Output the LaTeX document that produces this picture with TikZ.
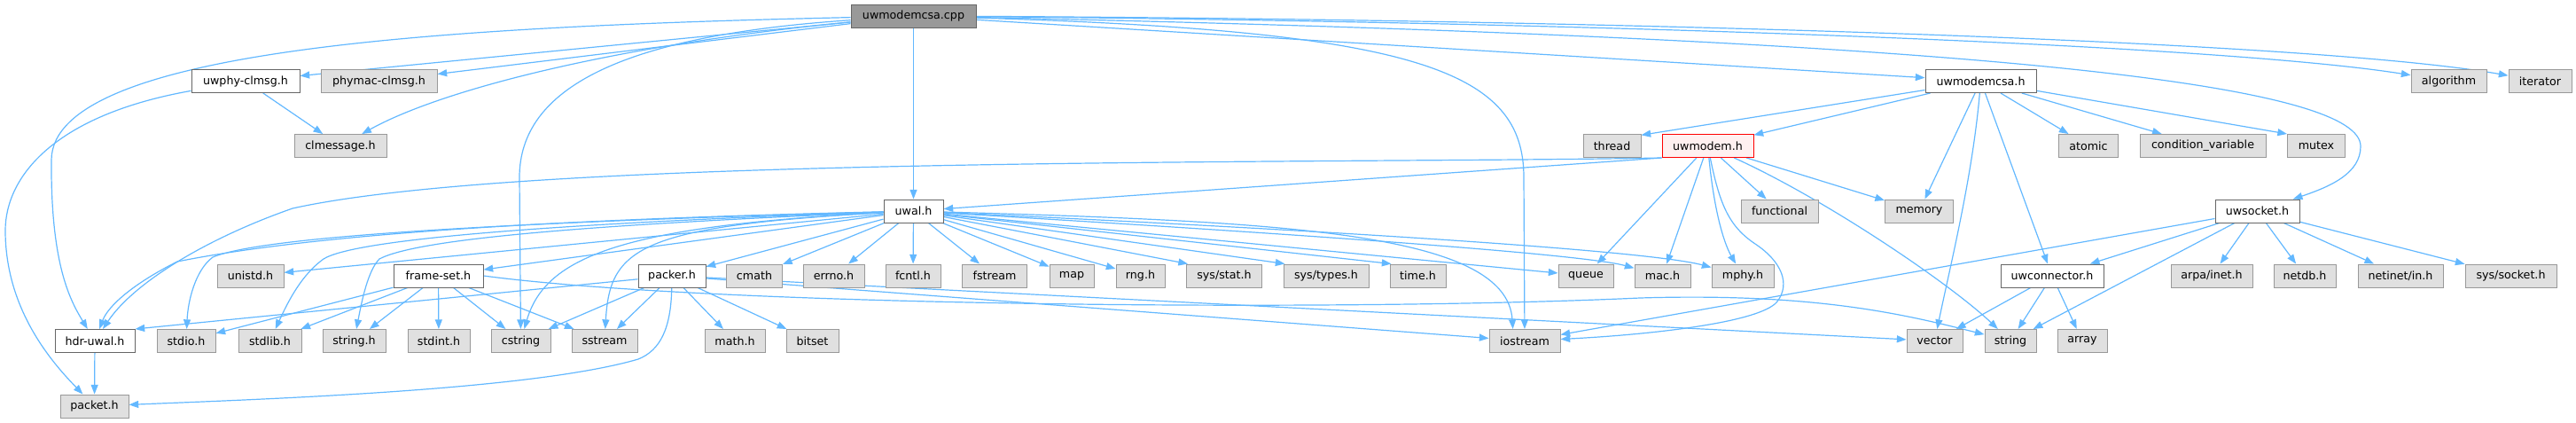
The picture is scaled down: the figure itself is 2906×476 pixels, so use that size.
\documentclass[tikz,border=0pt]{standalone}
\usepackage{fontspec}
\setmainfont{DejaVu Sans}
\usetikzlibrary{arrows.meta}
\pgfdeclarelayer{edgelayer}
\pgfsetlayers{edgelayer,main}
\definecolor{edgec}{HTML}{63B8FF}
\definecolor{gfill}{HTML}{E0E0E0}
\definecolor{gdraw}{HTML}{999999}
\definecolor{wdraw}{HTML}{666666}
\definecolor{rfill}{HTML}{FFF0F0}
\definecolor{rdraw}{HTML}{FF0000}
\tikzset{
  basebox/.style={rectangle, minimum height=19.5pt, inner sep=0pt, line width=0.75pt,
    font=\fontsize{9.5}{11}\selectfont},
  gbox/.style={basebox, draw=gdraw, fill=gfill},
  wbox/.style={basebox, draw=wdraw, fill=white},
  rootbox/.style={basebox, draw=wdraw, fill=gdraw},
  redbox/.style={basebox, draw=rdraw, fill=rfill},
  bw/.style={minimum width=#1*0.75pt},
  dep/.style={draw=edgec, line width=0.9pt, -{Triangle[length=8pt,width=6pt]}}
}
\begin{document}
\begin{tikzpicture}[x=0.75pt,y=-0.75pt]
\useasboundingbox (0,0) rectangle (2906,476);
% row 0
\node[rootbox,bw=141] (root) at (1030.5,18) {uwmodemcsa.cpp};
% row 1
\node[wbox,bw=122] (uwphy) at (277,91.5) {uwphy-clmsg.h};
\node[gbox,bw=131] (phymac) at (427.5,91.5) {phymac-clmsg.h};
\node[wbox,bw=125] (uwmcsah) at (2234.5,91.5) {uwmodemcsa.h};
\node[gbox,bw=85] (algo) at (2762.5,91.5) {algorithm};
\node[gbox,bw=71] (iter) at (2865.5,91.5) {iterator};
% row 2
\node[gbox,bw=104] (clmsg) at (384,164.5) {clmessage.h};
\node[gbox,bw=65] (thread) at (1818.5,164.5) {thread};
\node[redbox,bw=103] (uwmodem) at (1926.5,164.5) {uwmodem.h};
\node[gbox,bw=67] (atomic) at (2356,164.5) {atomic};
\node[gbox,bw=142] (condvar) at (2485,164.5) {condition\_variable};
\node[gbox,bw=65] (mutex) at (2613,164.5) {mutex};
% row 3
\node[wbox,bw=67] (uwal) at (1030.5,238) {uwal.h};
\node[gbox,bw=87] (functional) at (2007.5,238) {functional};
\node[gbox,bw=77] (memory) at (2165,238) {memory};
\node[wbox,bw=95] (uwsocket) at (2546.5,238) {uwsocket.h};
% row 4
\node[gbox,bw=75] (unistd) at (282.5,311) {unistd.h};
\node[wbox,bw=101] (frameset) at (494.5,311) {frame-set.h};
\node[wbox,bw=76] (packer) at (758,311) {packer.h};
\node[gbox,bw=63] (cmath) at (851,311) {cmath};
\node[gbox,bw=69] (errno) at (940.5,311) {errno.h};
\node[gbox,bw=62] (fcntl) at (1030,311) {fcntl.h};
\node[gbox,bw=73] (fstream) at (1122,311) {fstream};
\node[gbox,bw=50] (map) at (1209,311) {map};
\node[gbox,bw=55] (rng) at (1286.5,311) {rng.h};
\node[gbox,bw=85] (sysstat) at (1381,311) {sys/stat.h};
\node[gbox,bw=96] (systypes) at (1496,311) {sys/types.h};
\node[gbox,bw=63] (timeh) at (1599.5,311) {time.h};
\node[gbox,bw=62] (queue) at (1789,311) {queue};
\node[gbox,bw=63] (mach) at (1875.5,311) {mac.h};
\node[gbox,bw=70] (mphy) at (1966,311) {mphy.h};
\node[wbox,bw=116] (uwconn) at (2315,311) {uwconnector.h};
\node[gbox,bw=92] (arpa) at (2495,311) {arpa/inet.h};
\node[gbox,bw=70] (netdb) at (2600,311) {netdb.h};
\node[gbox,bw=96] (netinet) at (2708,311) {netinet/in.h};
\node[gbox,bw=103] (syssock) at (2832.5,311) {sys/socket.h};
% row 5
\node[wbox,bw=90] (hdr) at (107,384.5) {hdr-uwal.h};
\node[gbox,bw=66] (stdio) at (210,384.5) {stdio.h};
\node[gbox,bw=71] (stdlib) at (304.5,384.5) {stdlib.h};
\node[gbox,bw=71] (stringh) at (399.5,384.5) {string.h};
\node[gbox,bw=70] (stdint) at (495,384.5) {stdint.h};
\node[gbox,bw=67] (cstring) at (587.5,384.5) {cstring};
\node[gbox,bw=74] (sstream) at (682,384.5) {sstream};
\node[gbox,bw=68] (mathh) at (829,384.5) {math.h};
\node[gbox,bw=59] (bitset) at (916.5,384.5) {bitset};
\node[gbox,bw=80] (iostream) at (1720,384.5) {iostream};
\node[gbox,bw=63] (vector) at (2182.5,384.5) {vector};
\node[gbox,bw=58] (string) at (2268,384.5) {string};
\node[gbox,bw=56] (array) at (2349,384.5) {array};
% row 6
\node[gbox,bw=77] (packet) at (106.5,458) {packet.h};

\begin{pgfonlayer}{edgelayer}
% uwmodemcsa.cpp
\draw[dep] (root) -- (uwphy);
\draw[dep] (root) -- (phymac);
\draw[dep] (root) .. controls (700,50) and (500,100) .. (clmsg);
\draw[dep] (root) .. controls (500,30) and (60,55) .. (58,180) .. controls (57,300) and (80,340) .. (hdr);
\draw[dep] (root) .. controls (700,40) and (586,100) .. (586,200) -- (cstring);
\draw[dep] (root) -- (uwal);
\draw[dep] (root) -- (uwmcsah);
\draw[dep] (root) .. controls (1600,35) and (1719,80) .. (1719,200) -- (iostream);
\draw[dep] (root) .. controls (2300,45) and (2663,100) .. (2663,165) .. controls (2663,195) and (2630,210) .. (uwsocket);
\draw[dep] (root) .. controls (1800,25) and (2500,50) .. (algo);
\draw[dep] (root) .. controls (1800,22) and (2600,45) .. (iter);
% uwphy-clmsg.h
\draw[dep] (uwphy) -- (clmsg);
\draw[dep] (uwphy) .. controls (60,130) and (6,200) .. (6,260) .. controls (6,350) and (60,410) .. (packet);
% uwmodemcsa.h
\draw[dep] (uwmcsah) -- ([yshift=-1pt]thread.north east);
\draw[dep] (uwmcsah) -- (uwmodem);
\draw[dep] (uwmcsah) -- (memory);
\draw[dep] (uwmcsah) .. controls (2225,200) and (2200,300) .. (vector);
\draw[dep] (uwmcsah) -- (uwconn);
\draw[dep] (uwmcsah) -- (atomic);
\draw[dep] (uwmcsah) -- (condvar);
\draw[dep] (uwmcsah) -- (mutex.north west);
% uwmodem.h
\draw[dep] (uwmodem.south west) -- (uwal);
\draw[dep] (uwmodem.south west) .. controls (1500,185) and (600,175) .. (330,235) .. controls (230,270) and (150,320) .. (hdr);
\draw[dep] (uwmodem) -- (queue);
\draw[dep] (uwmodem) -- (mach);
\draw[dep] (uwmodem) .. controls (1935,250) and (1948,280) .. (mphy);
\draw[dep] (uwmodem) .. controls (1940,230) and (1950,255) .. (1980,275) .. controls (2010,295) and (2020,320) .. (2005,340) .. controls (1985,365) and (1850,378) .. (iostream);
\draw[dep] (uwmodem) -- (functional);
\draw[dep] (uwmodem) -- (memory);
\draw[dep] (uwmodem) .. controls (2060,225) and (2200,320) .. (string);
% uwal.h
\draw[dep] (uwal) .. controls (600,248) and (350,265) .. (200,295) .. controls (150,320) and (122,345) .. (hdr);
\draw[dep] (uwal) .. controls (600,250) and (300,265) .. (240,290) .. controls (220,305) and (212,340) .. (stdio);
\draw[dep] (uwal) .. controls (620,252) and (400,270) .. (365,292) .. controls (340,310) and (325,340) .. (stdlib);
\draw[dep] (uwal) .. controls (650,254) and (470,270) .. (428,292) .. controls (415,305) and (408,340) .. (stringh);
\draw[dep] (uwal) .. controls (700,255) and (615,290) .. (cstring);
\draw[dep] (uwal) .. controls (720,255) and (688,280) .. (sstream);
\draw[dep] (uwal) -- (unistd);
\draw[dep] (uwal) -- (frameset);
\draw[dep] (uwal) -- (packer);
\draw[dep] (uwal) -- (cmath);
\draw[dep] (uwal) -- (errno);
\draw[dep] (uwal) -- (fcntl);
\draw[dep] (uwal) -- (fstream);
\draw[dep] (uwal) -- (map);
\draw[dep] (uwal) -- (rng);
\draw[dep] (uwal) -- ([xshift=1.5pt]sysstat.north west);
\draw[dep] (uwal) -- ([xshift=1.5pt]systypes.north west);
\draw[dep] (uwal) -- ([xshift=1.5pt]timeh.north west);
\draw[dep] (uwal) .. controls (1450,250) and (1700,262) .. ([xshift=-10pt]iostream.north);
\draw[dep] (uwal) -- (queue);
\draw[dep] (uwal) .. controls (1400,260) and (1780,285) .. (mach);
\draw[dep] (uwal) .. controls (1400,255) and (1850,280) .. (mphy);
% frame-set.h
\draw[dep] (frameset) -- (stdio);
\draw[dep] (frameset) -- (stdlib);
\draw[dep] (frameset) -- (stringh);
\draw[dep] (frameset) -- (stdint);
\draw[dep] (frameset) -- (cstring);
\draw[dep] (frameset) -- (sstream);
\draw[dep] (frameset.east) .. controls (800,345) and (1500,352) .. (1850,336) .. controls (2050,330) and (2150,355) .. (string);
% packer.h
\draw[dep] (packer) -- (hdr.north east);
\draw[dep] (packer) .. controls (757,370) and (745,395) .. (720,405) .. controls (600,440) and (300,450) .. (packet);
\draw[dep] (packer) -- (cstring);
\draw[dep] (packer) -- (sstream);
\draw[dep] (packer) -- (mathh);
\draw[dep] (packer) -- (bitset);
\draw[dep] (packer) -- (iostream);
\draw[dep] (packer) -- (vector);
% hdr-uwal.h
\draw[dep] (hdr) -- (packet);
% uwsocket.h
\draw[dep] (uwsocket) -- (iostream);
\draw[dep] (uwsocket) -- (uwconn);
\draw[dep] (uwsocket) -- (string);
\draw[dep] (uwsocket) -- (arpa);
\draw[dep] (uwsocket) -- (netdb);
\draw[dep] (uwsocket) -- (netinet);
\draw[dep] (uwsocket) -- (syssock);
% uwconnector.h
\draw[dep] (uwconn) -- (vector);
\draw[dep] (uwconn) -- (string);
\draw[dep] (uwconn) -- (array);
\end{pgfonlayer}
\end{tikzpicture}
\end{document}
